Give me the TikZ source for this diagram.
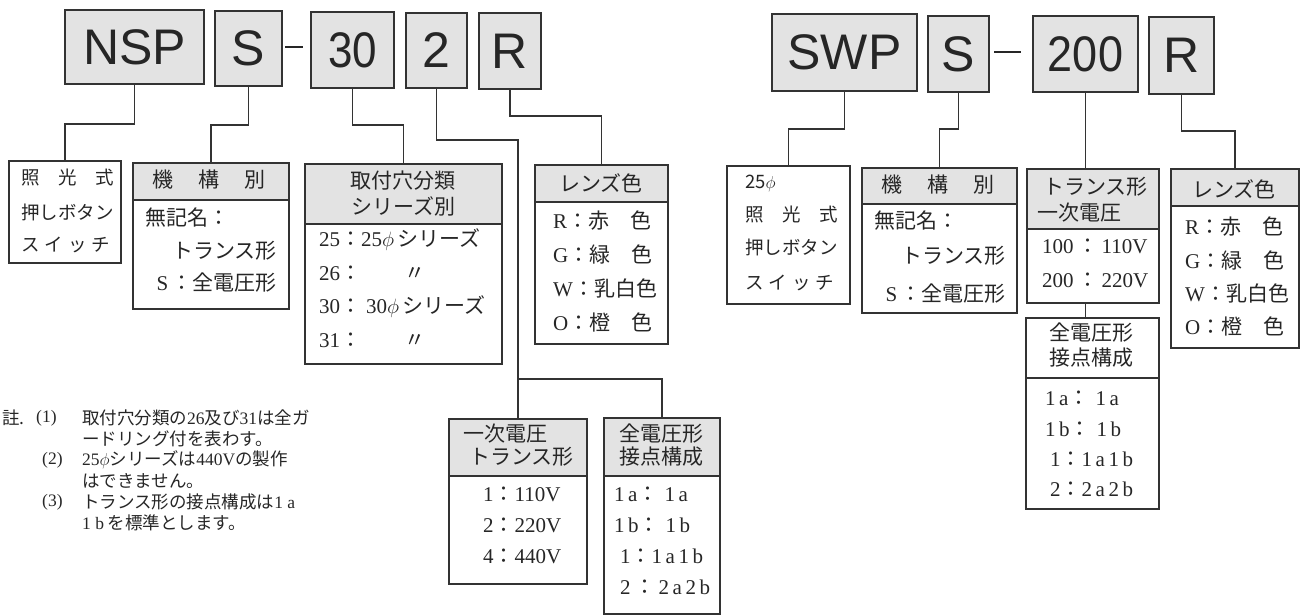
\documentclass[tikz,border=0pt]{standalone}
\usepackage{fontspec}
\usepackage{graphicx}
\setmainfont{Noto Sans CJK JP}
\newfontfamily\lat{Liberation Serif}
\newfontfamily\capsans{Liberation Sans}

\tikzset{
  topbox/.style={draw=black!80, fill=gray!22, line width=2pt, anchor=north west, inner sep=0pt,
                 text=black!85, font=\capsans\fontsize{50}{50}\selectfont},
  hdrbox/.style={draw=black!80, fill=gray!22, line width=2pt, anchor=north west, inner sep=0pt},
  bodybox/.style={draw=black!80, line width=2pt, anchor=north west, inner sep=0pt},
  txt/.style={anchor=west, inner sep=0pt, text=black!85, font=\fontsize{21}{26}\selectfont},
  small/.style={txt, font=\fontsize{18.5}{20}\selectfont},
  note/.style={txt, font=\fontsize{17.5}{19}\selectfont},
  link/.style={draw=black!80, line width=1.8pt},
}

\begin{document}
\begin{tikzpicture}[x=1pt, y=-1pt]
        \useasboundingbox (0,0) rectangle (1300,615);

        % NSP code
        \node[topbox, minimum width=139, minimum height=74] (nsp) at (64,9) {NSP};
        \node[topbox, minimum width=67, minimum height=75] (s1) at (214,10) {S};
        \node[inner sep=0pt, text=black!85] (dash1) at (294,47) {\rule{18pt}{2pt}};
        \node[topbox, minimum width=83, minimum height=76] (n30) at (310,11) {\scalebox{0.88}[1]{30}};
        \node[topbox, minimum width=61, minimum height=75] (n2) at (405,12) {2};
        \node[topbox, minimum width=62, minimum height=76] (r1) at (478,12) {R};

        \node[bodybox, minimum width=112, minimum height=102] (lamp1) at (8,160) {};
        \node[small] (lamp1a) at (21,178) {照　光　式};
        \node[small] (lamp1b) at (21,212) {押しボタン};
        \node[small] (lamp1c) at (21,245) {ス\hspace{5pt}イ\hspace{5pt}ッ\hspace{5pt}チ};

        \node[hdrbox, minimum width=156, minimum height=37] (mech1) at (132,162) {};
        \node[bodybox, minimum width=156, minimum height=109] (mech1b) at (132,199) {};
        \node[txt, anchor=center] (mech1t) at (209,180) {機\hspace{1.2em}構\hspace{1.2em}別};
        \node[txt] (mech1x) at (145,218) {無記名：};
        \node[txt, anchor=east] (mech1y) at (277,251) {トランス形};
        \node[txt, anchor=east] (mech1z) at (277,283) {{\lat S}\,：全電圧形};

        \node[hdrbox, minimum width=197, minimum height=60] (hole1) at (304,163) {};
        \node[bodybox, minimum width=197, minimum height=140] (hole1b) at (304,223) {};
        \node[txt, anchor=center, align=center] (hole1t) at (403,194) {取付穴分類\\シリーズ別};
        \node[txt] (hole1a) at (319,240) {{\lat 25}：{\lat 25}$\phi$\,シリーズ};
        \node[txt] (hole1c) at (319,273) {{\lat 26}：\hspace{43pt}〃};
        \node[txt] (hole1d) at (319,307) {{\lat 30}：\hspace{5pt}{\lat 30}$\phi$\,シリーズ};
        \node[txt] (hole1e) at (319,340) {{\lat 31}：\hspace{43pt}〃};

        \node[hdrbox, minimum width=133, minimum height=37] (lens1) at (534,164) {};
        \node[bodybox, minimum width=133, minimum height=142] (lens1b) at (534,201) {};
        \node[txt, anchor=center] (lens1t) at (601,183) {レンズ色};
        \foreach \c/\t [count=\i] in {R/赤　色, G/緑　色, W/乳白色, O/橙　色}
            \node[txt] (lens1r\i) at (553,{221+33.7*(\i-1)}) {{\lat \c}：\t};

        \node[hdrbox, minimum width=138, minimum height=57] (volt1) at (448,418) {};
        \node[bodybox, minimum width=138, minimum height=108] (volt1b) at (448,475) {};
        \node[txt] (volt1t) at (463,434) {一次電圧};
        \node[txt] (volt1u) at (469,457) {トランス形};
        \node[txt] (volt1a) at (483,494) {{\lat 1}：{\lat 110V}};
        \node[txt] (volt1c) at (483,525) {{\lat 2}：{\lat 220V}};
        \node[txt] (volt1d) at (483,556) {{\lat 4}：{\lat 440V}};

        \node[hdrbox, minimum width=116, minimum height=58] (cont1) at (603,417) {};
        \node[bodybox, minimum width=116, minimum height=138] (cont1b) at (603,475) {};
        \node[txt, anchor=center] (cont1t) at (661,434) {全電圧形};
        \node[txt, anchor=center] (cont1u) at (661,457) {接点構成};
        \node[txt] (cont1a) at (614,494) {{\lat 1\,a}：\hspace{6pt}{\lat 1\,a}};
        \node[txt] (cont1c) at (614,525) {{\lat 1\,b}：\hspace{6pt}{\lat 1\,b}};
        \node[txt] (cont1d) at (620,556) {{\lat 1}：{\lat 1\,a\,1\,b}};
        \node[txt] (cont1e) at (620,587) {{\lat 2}\,：\,{\lat 2\,a\,2\,b}};

        \coordinate (fork1y) at (0,379);
        \coordinate (fork1) at (volt1.north |- fork1y);

        \draw[link] (nsp.south) -- ++(0,39) -| (lamp1.north);
        \draw[link] (s1.south) -- ++(0,38) -| (mech1.north);
        \draw[link] (n30.south) -- ++(0,36) -| (hole1.north);
        \draw[link] (n2.south) -- ++(0,51) -| (fork1) -- (volt1.north);
        \draw[link] (fork1) -| (cont1.north);
        \draw[link] (r1.south) -- ++(0,26) -| (lens1.north);

        % notes
        \node[note] (nt0) at (2,418) {註.};
        \node[note] (nt1) at (36,418) {{\lat (1)}};
        \node[note] (nt1a) at (82,418) {取付穴分類の{\lat 26}及び{\lat 31}は全ガ};
        \node[note] (nt1b) at (82,439) {ードリング付を表わす。};
        \node[note] (nt2) at (42,460) {{\lat (2)}};
        \node[note] (nt2a) at (82,460) {{\lat 25}$\phi$シリーズは{\lat 440V}の製作};
        \node[note] (nt2b) at (82,481) {はできません。};
        \node[note] (nt3) at (42,502) {{\lat (3)}};
        \node[note] (nt3a) at (82,502) {トランス形の接点構成は{\lat 1 a}};
        \node[note] (nt3b) at (82,523) {{\lat 1 b} を標準とします。};

        % SWP code
        \node[topbox, minimum width=145, minimum height=77] (swp) at (771,13) {SWP};
        \node[topbox, minimum width=61, minimum height=76] (s2) at (927,15) {S};
        \node[inner sep=0pt, text=black!85] (dash2) at (1007.5,52) {\rule{27pt}{2pt}};
        \node[topbox, minimum width=105, minimum height=76] (n200) at (1032,15) {\scalebox{0.9}[1]{200}};
        \node[topbox, minimum width=65, minimum height=77] (r2) at (1148,16) {R};

        \node[bodybox, minimum width=123, minimum height=138] (lamp2) at (726,165) {};
        \node[small] (lamp2z) at (745,183) {25$\phi$};
        \node[small] (lamp2a) at (745,215) {照　光　式};
        \node[small] (lamp2b) at (745,247) {押しボタン};
        \node[small] (lamp2c) at (745,283) {ス\hspace{5pt}イ\hspace{5pt}ッ\hspace{5pt}チ};

        \node[hdrbox, minimum width=155, minimum height=36] (mech2) at (861,167) {};
        \node[bodybox, minimum width=155, minimum height=109] (mech2b) at (861,203) {};
        \node[txt, anchor=center] (mech2t) at (938,185) {機\hspace{1.2em}構\hspace{1.2em}別};
        \node[txt] (mech2x) at (874,221) {無記名：};
        \node[txt, anchor=east] (mech2y) at (1006,256) {トランス形};
        \node[txt, anchor=east] (mech2z) at (1006,294) {{\lat S}\,：全電圧形};

        \node[hdrbox, minimum width=132, minimum height=60] (volt2) at (1026,168) {};
        \node[bodybox, minimum width=132, minimum height=74] (volt2b) at (1026,228) {};
        \node[txt] (volt2t) at (1043,187) {トランス形};
        \node[txt] (volt2u) at (1037,213) {一次電圧};
        \node[txt] (volt2a) at (1042,246) {{\lat 100}\,：\,{\lat 110V}};
        \node[txt] (volt2c) at (1042,280) {{\lat 200}\,：\,{\lat 220V}};

        \node[bodybox, minimum width=133, minimum height=60] (cont2) at (1025,317) {};
        \node[bodybox, minimum width=133, minimum height=131] (cont2b) at (1025,377) {};
        \node[txt, anchor=center] (cont2t) at (1091,333) {全電圧形};
        \node[txt, anchor=center] (cont2u) at (1091,358) {接点構成};
        \node[txt] (cont2a) at (1045,398) {{\lat 1\,a}：\hspace{6pt}{\lat 1\,a}};
        \node[txt] (cont2c) at (1045,429) {{\lat 1\,b}：\hspace{6pt}{\lat 1\,b}};
        \node[txt] (cont2d) at (1050,459) {{\lat 1}：{\lat 1\,a\,1\,b}};
        \node[txt] (cont2e) at (1050,489) {{\lat 2}：{\lat 2\,a\,2\,b}};

        \node[hdrbox, minimum width=128, minimum height=37] (lens2) at (1170,168) {};
        \node[bodybox, minimum width=128, minimum height=142] (lens2b) at (1170,205) {};
        \node[txt, anchor=center] (lens2t) at (1234,189) {レンズ色};
        \foreach \c/\t [count=\i] in {R/赤　色, G/緑　色, W/乳白色, O/橙　色}
            \node[txt] (lens2r\i) at (1185,{227+33.3*(\i-1)}) {{\lat \c}：\t};

        \draw[link] (swp.south) -- ++(0,37) -| (lamp2.north);
        \draw[link] (s2.south) -- ++(0,36) -| (mech2.north);
        \draw[link] (n200.south) -- (n200.south |- volt2.north);
        \draw[link] (volt2b.south -| n200.south) -- (cont2.north -| n200.south);
        \draw[link] (r2.south) -- ++(0,36) -| (lens2.north);
    \end{tikzpicture}
\end{document}
